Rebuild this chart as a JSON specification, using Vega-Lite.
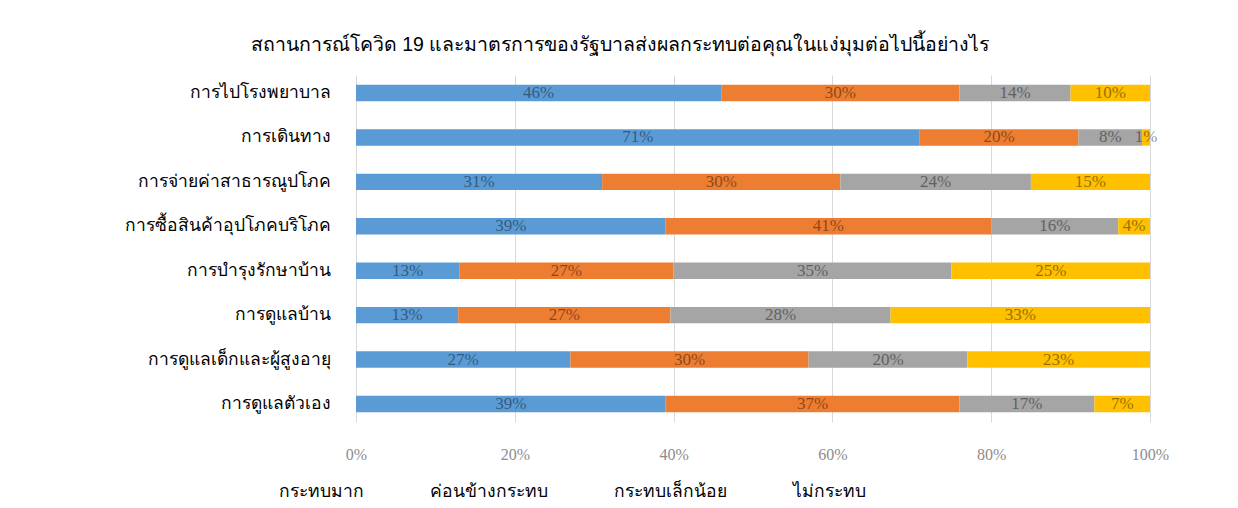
{
  "$schema": "https://vega.github.io/schema/vega-lite/v6.json",
  "autosize": {"type": "none"},
  "width": 794,
  "height": 347,
  "padding": {"left": 356, "top": 75, "right": 88, "bottom": 86},
  "background": "white",
  "title": {
    "text": "สถานการณ์โควิด 19 และมาตรการของรัฐบาลส่งผลกระทบต่อคุณในแง่มุมต่อไปนี้อย่างไร",
    "anchor": "middle",
    "dx": -133,
    "offset": 20,
    "fontSize": 19.5,
    "fontWeight": "normal",
    "color": "#000000"
  },
  "data": {
    "values": [
      {"item": "การไปโรงพยาบาล", "level": "กระทบมาก", "k": 1, "v": 0.46},
      {"item": "การไปโรงพยาบาล", "level": "ค่อนข้างกระทบ", "k": 2, "v": 0.30},
      {"item": "การไปโรงพยาบาล", "level": "กระทบเล็กน้อย", "k": 3, "v": 0.14},
      {"item": "การไปโรงพยาบาล", "level": "ไม่กระทบ", "k": 4, "v": 0.10},
      {"item": "การเดินทาง", "level": "กระทบมาก", "k": 1, "v": 0.71},
      {"item": "การเดินทาง", "level": "ค่อนข้างกระทบ", "k": 2, "v": 0.20},
      {"item": "การเดินทาง", "level": "กระทบเล็กน้อย", "k": 3, "v": 0.08},
      {"item": "การเดินทาง", "level": "ไม่กระทบ", "k": 4, "v": 0.01},
      {"item": "การจ่ายค่าสาธารณูปโภค", "level": "กระทบมาก", "k": 1, "v": 0.31},
      {"item": "การจ่ายค่าสาธารณูปโภค", "level": "ค่อนข้างกระทบ", "k": 2, "v": 0.30},
      {"item": "การจ่ายค่าสาธารณูปโภค", "level": "กระทบเล็กน้อย", "k": 3, "v": 0.24},
      {"item": "การจ่ายค่าสาธารณูปโภค", "level": "ไม่กระทบ", "k": 4, "v": 0.15},
      {"item": "การซื้อสินค้าอุปโภคบริโภค", "level": "กระทบมาก", "k": 1, "v": 0.39},
      {"item": "การซื้อสินค้าอุปโภคบริโภค", "level": "ค่อนข้างกระทบ", "k": 2, "v": 0.41},
      {"item": "การซื้อสินค้าอุปโภคบริโภค", "level": "กระทบเล็กน้อย", "k": 3, "v": 0.16},
      {"item": "การซื้อสินค้าอุปโภคบริโภค", "level": "ไม่กระทบ", "k": 4, "v": 0.04},
      {"item": "การบำรุงรักษาบ้าน", "level": "กระทบมาก", "k": 1, "v": 0.13},
      {"item": "การบำรุงรักษาบ้าน", "level": "ค่อนข้างกระทบ", "k": 2, "v": 0.27},
      {"item": "การบำรุงรักษาบ้าน", "level": "กระทบเล็กน้อย", "k": 3, "v": 0.35},
      {"item": "การบำรุงรักษาบ้าน", "level": "ไม่กระทบ", "k": 4, "v": 0.25},
      {"item": "การดูแลบ้าน", "level": "กระทบมาก", "k": 1, "v": 0.13},
      {"item": "การดูแลบ้าน", "level": "ค่อนข้างกระทบ", "k": 2, "v": 0.27},
      {"item": "การดูแลบ้าน", "level": "กระทบเล็กน้อย", "k": 3, "v": 0.28},
      {"item": "การดูแลบ้าน", "level": "ไม่กระทบ", "k": 4, "v": 0.33},
      {"item": "การดูแลเด็กและผู้สูงอายุ", "level": "กระทบมาก", "k": 1, "v": 0.27},
      {"item": "การดูแลเด็กและผู้สูงอายุ", "level": "ค่อนข้างกระทบ", "k": 2, "v": 0.30},
      {"item": "การดูแลเด็กและผู้สูงอายุ", "level": "กระทบเล็กน้อย", "k": 3, "v": 0.20},
      {"item": "การดูแลเด็กและผู้สูงอายุ", "level": "ไม่กระทบ", "k": 4, "v": 0.23},
      {"item": "การดูแลตัวเอง", "level": "กระทบมาก", "k": 1, "v": 0.39},
      {"item": "การดูแลตัวเอง", "level": "ค่อนข้างกระทบ", "k": 2, "v": 0.37},
      {"item": "การดูแลตัวเอง", "level": "กระทบเล็กน้อย", "k": 3, "v": 0.17},
      {"item": "การดูแลตัวเอง", "level": "ไม่กระทบ", "k": 4, "v": 0.07}
    ]
  },
  "encoding": {
    "y": {
      "field": "item",
      "type": "nominal",
      "sort": ["การไปโรงพยาบาล", "การเดินทาง", "การจ่ายค่าสาธารณูปโภค", "การซื้อสินค้าอุปโภคบริโภค", "การบำรุงรักษาบ้าน", "การดูแลบ้าน", "การดูแลเด็กและผู้สูงอายุ", "การดูแลตัวเอง"],
      "scale": {"paddingInner": 0.63, "paddingOuter": 0.22},
      "axis": {"title": null, "domain": false, "ticks": false, "labelPadding": 26, "labelFontSize": 17.5, "labelColor": "#000000", "labelLimit": 400}
    },
    "x": {
      "field": "v",
      "type": "quantitative",
      "stack": "normalize",
      "axis": {"title": null, "format": "%", "values": [0, 0.2, 0.4, 0.6, 0.8, 1], "domain": false, "ticks": false, "labelFlush": false, "labelPadding": 24, "labelFont": "Liberation Serif", "labelFontSize": 16, "labelColor": "#8c8c8c", "gridColor": "#d9d9d9", "gridWidth": 1}
    },
    "order": {"field": "k", "type": "quantitative"}
  },
  "layer": [
    {
      "mark": {"type": "bar"},
      "encoding": {
        "color": {
          "field": "level",
          "type": "nominal",
          "scale": {"domain": ["กระทบมาก", "ค่อนข้างกระทบ", "กระทบเล็กน้อย", "ไม่กระทบ"], "range": ["#5B9BD5", "#ED7D31", "#A5A5A5", "#FFC000"]},
          "legend": {
            "title": null,
            "orient": "none",
            "direction": "horizontal",
            "legendX": -95,
            "legendY": 408,
            "symbolSize": 0,
            "symbolOpacity": 0,
            "labelOffset": 0,
            "columnPadding": 48,
            "labelFontSize": 17.5,
            "labelColor": "#000000",
            "labelLimit": 300
          }
        }
      }
    },
    {
      "mark": {"type": "text", "font": "Liberation Serif", "fontSize": 17, "color": "#000000", "opacity": 0.42, "baseline": "middle"},
      "encoding": {
        "x": {"field": "v", "type": "quantitative", "stack": "normalize", "bandPosition": 0.5},
        "text": {"field": "v", "type": "quantitative", "format": ".0%"},
        "detail": {"field": "level"}
      }
    }
  ],
  "config": {"view": {"stroke": null}}
}
